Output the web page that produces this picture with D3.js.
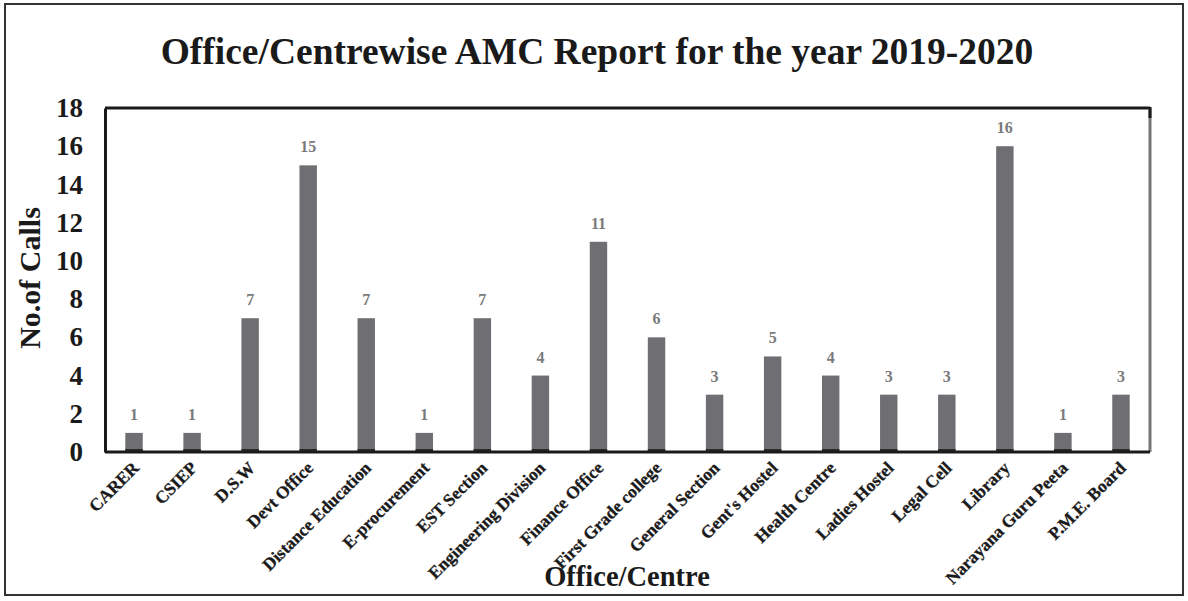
<!DOCTYPE html>
<html>
<head>
<meta charset="utf-8">
<script src="https://cdn.jsdelivr.net/npm/d3@7/dist/d3.min.js"></script>
<style>
  body { margin: 0; background: #fff; }
  text { font-family: "Liberation Serif", "Times New Roman", serif; font-weight: bold; }
</style>
</head>
<body>
<div id="chart"></div>
<script>
const categories = ["CARER", "CSIEP", "D.S.W", "Devt Office", "Distance Education", "E-procurement",
    "EST Section", "Engineering Division", "Finance Office", "First Grade college", "General Section",
    "Gent's Hostel", "Health Centre", "Ladies Hostel", "Legal Cell", "Library", "Narayana Guru Peeta",
    "P.M.E. Board"];
const calls = [1, 1, 7, 15, 7, 1, 7, 4, 11, 6, 3, 5, 4, 3, 3, 16, 1, 3];
const yTicks = [0, 2, 4, 6, 8, 10, 12, 14, 16, 18];

const W = 1188, H = 601;
const m = {left: 105, right: 1150, top: 108, bottom: 452};

let svg = d3.select("#chart").append("svg")
    .attr("width", W)
    .attr("height", H);

// outer frame
svg.append("rect")
    .attr("x", 5).attr("y", 4)
    .attr("width", 1178).attr("height", 591)
    .attr("fill", "none")
    .attr("stroke", "#333")
    .attr("stroke-width", 2);

let x = d3.scaleBand()
    .domain(categories)
    .range([m.left, m.right])
    .paddingInner(0.7)
    .paddingOuter(0.35);

let y = d3.scaleLinear()
    .domain([0, 18])
    .range([m.bottom, m.top]);

// plot borders
svg.append("line").attr("x1", m.left).attr("y1", m.top).attr("x2", m.right).attr("y2", m.top)
    .attr("stroke", "#1a1a1a").attr("stroke-width", 3);
svg.append("line").attr("x1", m.right).attr("y1", m.top).attr("x2", m.right).attr("y2", m.bottom)
    .attr("stroke", "#777").attr("stroke-width", 3);
svg.append("line").attr("x1", m.right).attr("y1", m.top - 1).attr("x2", m.right).attr("y2", m.top + 10)
    .attr("stroke", "#1a1a1a").attr("stroke-width", 3);

// bars
svg.append("g").selectAll("rect")
    .data(calls)
    .join("rect")
    .attr("x", (d, i) => x(categories[i]))
    .attr("y", d => y(d))
    .attr("width", x.bandwidth())
    .attr("height", d => y(0) - y(d))
    .attr("fill", "#6f6f73");

// dark foot of each bar
svg.append("g").selectAll("rect")
    .data(calls)
    .join("rect")
    .attr("x", (d, i) => x(categories[i]))
    .attr("y", y(0) - 3)
    .attr("width", x.bandwidth())
    .attr("height", 3)
    .attr("fill", "#2a2a2a");

// value labels
svg.append("g").selectAll("text")
    .data(calls)
    .join("text")
    .attr("x", (d, i) => x(categories[i]) + x.bandwidth() / 2)
    .attr("y", d => y(d) - 13)
    .attr("text-anchor", "middle")
    .attr("font-size", 16)
    .attr("fill", "#7a7a7a")
    .text(d => d);

// y axis
let yAxis = svg.append("g")
    .attr("transform", "translate(" + m.left + ",0)")
    .call(d3.axisLeft(y).tickValues(yTicks).tickSize(0).tickPadding(22));
yAxis.select(".domain").attr("stroke", "#1a1a1a").attr("stroke-width", 3);
yAxis.selectAll("text")
    .attr("font-size", 27)
    .attr("fill", "#1a1a1a")
    .attr("font-family", "Liberation Serif, serif");

// x axis
let xAxis = svg.append("g")
    .attr("transform", "translate(0," + m.bottom + ")")
    .call(d3.axisBottom(x).tickSize(0).tickPadding(0));
xAxis.select(".domain").attr("stroke", "#1a1a1a").attr("stroke-width", 3)
    .attr("d", "M" + m.left + ",0H" + m.right);
xAxis.selectAll("text")
    .attr("font-size", 17.5)
    .attr("fill", "#1a1a1a")
    .attr("font-family", "Liberation Serif, serif")
    .attr("stroke", "#1a1a1a")
    .attr("stroke-width", 0.3)
    .attr("text-anchor", "end")
    .attr("dy", null)
    .attr("transform", "translate(6,17) rotate(-45)");

// titles
svg.append("text")
    .attr("x", 597).attr("y", 64)
    .attr("text-anchor", "middle")
    .attr("font-size", 37.5)
    .attr("fill", "#1a1a1a")
    .text("Office/Centrewise AMC Report for the year 2019-2020");

svg.append("text")
    .attr("transform", "translate(40,278) rotate(-90)")
    .attr("text-anchor", "middle")
    .attr("font-size", 30)
    .attr("fill", "#1a1a1a")
    .text("No.of Calls");

svg.append("text")
    .attr("x", 627).attr("y", 586)
    .attr("text-anchor", "middle")
    .attr("font-size", 28.5)
    .attr("fill", "#1a1a1a")
    .text("Office/Centre");
</script>
</body>
</html>
